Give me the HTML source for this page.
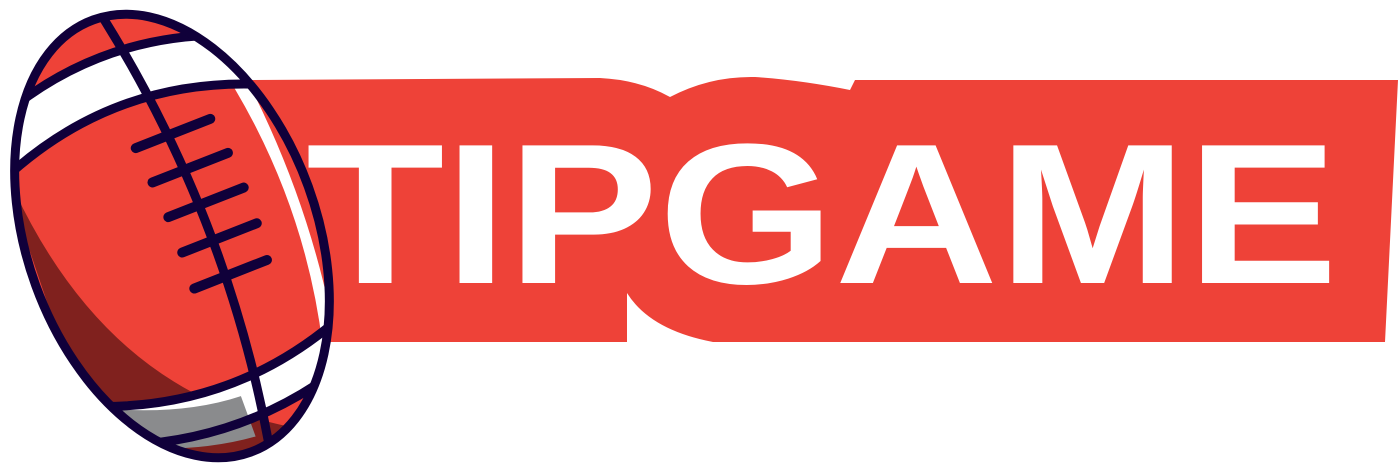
<!DOCTYPE html>
<html><head><meta charset="utf-8"><style>
html,body{margin:0;padding:0;background:#fff;width:1399px;height:476px;overflow:hidden}
</style></head><body>
<svg width="1399" height="476" viewBox="0 0 1399 476" style="display:block;overflow:hidden">
  <g>
    <path fill="#ee4238" d="M250 80 L600 78 Q640 80 670 97 Q710 76 755 77 Q800 80 850 90 L855 80 L1398 80 L1385 342 L250 342 Z"/>
    <path fill="#fff" d="M627 293 Q650 330 713 342 L627 342 Z"/>
  </g>
  <text x="306" y="283" font-family="Liberation Sans, sans-serif" font-weight="bold" font-size="200" fill="#fff" textLength="1032" lengthAdjust="spacingAndGlyphs">TIPGAME</text>
  <g transform="translate(172 236) rotate(-20)">
    <defs><clipPath id="ball"><ellipse cx="0" cy="0" rx="145" ry="230"/></clipPath></defs>
    <ellipse cx="0" cy="0" rx="145" ry="230" fill="#ee4238"/>
    <g clip-path="url(#ball)">
      <path d="M-135 -190 Q-145 115 60 228 L-145 228 Z" fill="#80211e"/>
      <path d="M-145 -160 Q0 -225 145 -160 L145 -108 Q0 -172 -145 -108 Z" fill="#fff"/>
      <path d="M-145 -160 Q-130 -172 -118 -176 L-122 -116 Q-140 -112 -145 -108 Z" fill="#8a8b8d"/>
      <path d="M-145 128 Q0 190 145 128 L145 170 Q0 228 -145 170 Z" fill="#fff"/>
      <path d="M-145 128 Q-60 172 10 174 L10 217 Q-60 212 -145 170 Z" fill="#8a8b8d"/>
      <path d="M100 -160 Q140 0 104 155 L118 155 Q145 0 118 -160 Z" fill="#fff"/>
      <path d="M-145 -160 Q0 -225 145 -160 M-145 -108 Q0 -172 145 -108 M-145 128 Q0 190 145 128 M-145 170 Q0 228 145 170" stroke="#10003a" stroke-width="9" fill="none"/>
      <path d="M10 -228 Q58 0 20 228" stroke="#10003a" stroke-width="9" fill="none"/>
    </g>
    <g stroke="#10003a" stroke-width="10" stroke-linecap="round">
      <line x1="-4" y1="-95" x2="76" y2="-97"/>
      <line x1="0" y1="-57" x2="81" y2="-59"/>
      <line x1="3" y1="-19" x2="84" y2="-21"/>
      <line x1="4" y1="19" x2="84" y2="17"/>
      <line x1="3" y1="57" x2="81" y2="55"/>
    </g>
    <ellipse cx="0" cy="0" rx="145" ry="230" fill="none" stroke="#10003a" stroke-width="9"/>
  </g>
</svg>
</body></html>
